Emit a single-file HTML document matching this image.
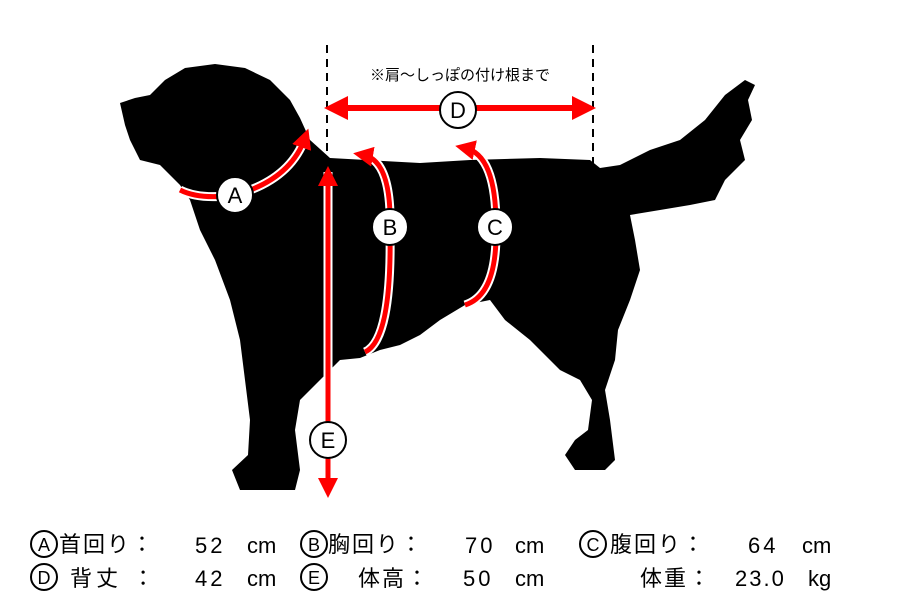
<!DOCTYPE html>
<html><head><meta charset="utf-8"><style>
body{margin:0;background:#fff}
svg{display:block}
text{font-family:"Liberation Sans","Noto Sans CJK JP",sans-serif}
</style></head><body>
<svg width="900" height="600" viewBox="0 0 900 600" xmlns="http://www.w3.org/2000/svg">
<defs>
<marker id="ah" viewBox="0 0 10 10" refX="5" refY="5" markerWidth="4" markerHeight="4" orient="auto-start-reverse"><path d="M0,0 L10,5 L0,10 Z" fill="#f00"/></marker>
</defs>
<path fill="#000" d="M120,103 L135,98 150,95 165,80 185,68 215,64 245,68 270,80 290,100 300,118 310,140 330,158 L420,163 470,160 540,158 590,160 600,168 620,165 650,150 680,140 705,120 725,95 745,80 755,85 748,100 752,120 740,140 745,160 725,180 715,200 690,205 660,210 630,215 L635,240 640,270 630,300 618,330 615,360 605,390 610,420 615,460 605,470 575,470 565,455 575,440 588,430 592,400 580,380 560,370 530,340 505,320 490,300 465,305 440,320 420,335 400,345 380,350 360,358 340,360 320,380 300,400 295,430 300,470 295,490 240,490 232,470 248,455 250,420 245,380 240,340 230,300 215,260 200,230 190,200 180,185 160,165 140,160 130,140 125,125 Z"/>
<line x1="327" y1="45" x2="327" y2="165" stroke="#000" stroke-width="2" stroke-dasharray="8,6"/>
<line x1="593" y1="45" x2="593" y2="165" stroke="#000" stroke-width="2" stroke-dasharray="8,6"/>
<line x1="336" y1="108" x2="584" y2="108" stroke="#f00" stroke-width="6" marker-start="url(#ah)" marker-end="url(#ah)"/>
<text x="460" y="80" font-size="15" text-anchor="middle">※肩～しっぽの付け根まで</text>
<path d="M180,190 Q200,200 235,195 Q290,180 305,138" fill="none" stroke="#fff" stroke-width="9"/>
<path d="M180,190 Q200,200 235,195 Q290,180 305,138" fill="none" stroke="#f00" stroke-width="5" marker-end="url(#ah)"/>
<path d="M363,155 Q392,160 390,230 Q392,340 365,352" fill="none" stroke="#fff" stroke-width="9"/>
<path d="M363,155 Q392,160 390,230 Q392,340 365,352" fill="none" stroke="#f00" stroke-width="5" marker-start="url(#ah)"/>
<path d="M465,148 Q497,155 496,230 Q497,295 465,305" fill="none" stroke="#fff" stroke-width="9"/>
<path d="M465,148 Q497,155 496,230 Q497,295 465,305" fill="none" stroke="#f00" stroke-width="5" marker-start="url(#ah)"/>
<line x1="328" y1="172" x2="328" y2="420" stroke="#fff" stroke-width="9"/>
<line x1="328" y1="176" x2="328" y2="488" stroke="#f00" stroke-width="5" marker-start="url(#ah)" marker-end="url(#ah)"/>
<text x="350" y="445" font-size="14" fill="#fff">※地面～肩までの高さ</text>
<g stroke="#000" stroke-width="2" fill="#fff">
<circle cx="235" cy="195" r="18"/><circle cx="390" cy="227" r="18"/><circle cx="495" cy="227" r="18"/><circle cx="458" cy="110" r="18"/><circle cx="328" cy="440" r="18"/>
</g>
<g font-size="22" text-anchor="middle">
<text x="235" y="203">A</text><text x="390" y="235">B</text><text x="495" y="235">C</text><text x="458" y="118">D</text><text x="328" y="448">E</text>
</g>
<g stroke="#000" stroke-width="2" fill="none">
<circle cx="44" cy="544" r="13"/><circle cx="314" cy="544" r="13"/><circle cx="593" cy="544" r="13"/>
<circle cx="44" cy="577" r="13"/><circle cx="314" cy="577" r="13"/>
</g>
<g font-size="18" text-anchor="middle">
<text x="44" y="551">A</text><text x="314" y="551">B</text><text x="593" y="551">C</text>
<text x="44" y="584">D</text><text x="314" y="584">E</text>
</g>
<g font-size="22">
<text x="59" y="552" letter-spacing="2">首回り：</text><text x="195" y="553" letter-spacing="3">52</text><text x="247" y="553">cm</text>
<text x="328" y="552" letter-spacing="2">胸回り：</text><text x="465" y="553" letter-spacing="3">70</text><text x="515" y="553">cm</text>
<text x="610" y="552" letter-spacing="2">腹回り：</text><text x="748" y="553" letter-spacing="3">64</text><text x="802" y="553">cm</text>
<text x="70" y="586" letter-spacing="4">背丈 ：</text><text x="195" y="586" letter-spacing="3">42</text><text x="247" y="586">cm</text>
<text x="358" y="586" letter-spacing="2">体高：</text><text x="463" y="586" letter-spacing="3">50</text><text x="515" y="586">cm</text>
<text x="640" y="586" letter-spacing="2">体重：</text><text x="735" y="586" letter-spacing="2">23.0</text><text x="808" y="586">kg</text>
</g>
</svg>
</body></html>
